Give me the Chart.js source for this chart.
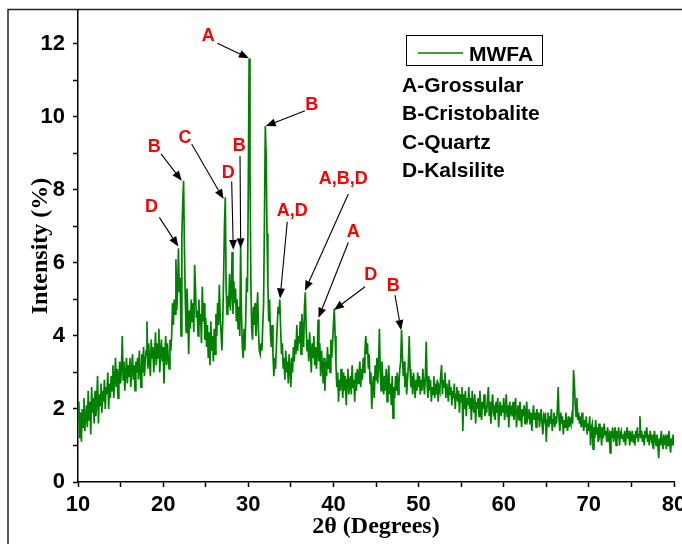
<!DOCTYPE html>
<html>
<head>
<meta charset="utf-8">
<title>MWFA XRD</title>
<script src="https://cdn.jsdelivr.net/npm/chart.js@4.4.0/dist/chart.umd.min.js"></script>
<style>
  html, body { margin: 0; padding: 0; background: #fff; }
  #wrap { width: 682px; height: 544px; }
</style>
</head>
<body>
<div id="wrap"><canvas id="xrd" width="682" height="544"></canvas></div>
<script>
  // 2theta grid: 10.0 .. 80.0 in 0.1 deg steps, one row per degree
  const thetaStart = 10;
  const thetaStep = 0.1;
  const intensity = [
    1.7,2.2,1.2,1.9,1.1,2.0,1.5,2.3,1.4,1.8,   // 10
    2.1,1.5,2.5,1.7,2.2,1.3,2.6,1.9,2.3,1.6,   // 11
    2.5,1.8,2.2,2.9,1.6,2.4,2.1,2.7,1.9,2.5,   // 12
    2.2,2.8,2.0,2.6,2.4,3.0,2.0,2.7,2.3,2.9,   // 13
    2.5,3.2,2.3,2.8,3.4,2.6,3.1,2.3,2.9,3.3,   // 14
    2.7,3.1,4.0,2.8,3.3,2.5,3.0,3.4,2.7,3.2,   // 15
    2.9,3.4,2.6,3.1,3.5,2.8,3.2,2.5,3.3,3.0,   // 16
    3.4,2.8,3.6,3.1,2.6,3.5,3.0,3.7,2.9,3.3,   // 17
    3.6,4.4,3.1,3.8,3.3,2.9,3.9,3.4,3.7,3.0,   // 18
    3.5,4.1,3.2,3.8,3.4,4.2,3.0,3.6,3.9,3.3,   // 19
    3.7,2.7,3.5,4.0,3.2,3.8,3.4,3.1,3.9,3.6,   // 20
    4.0,4.9,4.3,5.0,4.6,6.1,4.7,5.3,6.4,5.2,   // 21
    5.6,4.0,6.8,7.6,8.25,6.4,5.0,4.1,5.3,4.6,  // 22
    3.5,4.7,4.2,5.0,4.4,4.9,4.1,5.95,5.3,4.5,  // 23
    4.7,4.0,5.0,4.3,4.6,3.8,5.35,4.4,4.9,3.9,  // 24
    4.5,3.7,4.3,3.4,4.1,3.2,4.4,3.6,4.0,3.3,   // 25
    4.2,3.5,4.6,4.0,4.9,4.3,5.4,4.5,4.1,3.6,   // 26
    4.4,5.6,7.0,7.8,5.3,4.6,5.1,4.8,5.7,4.7,   // 27
    5.2,6.3,4.6,5.5,4.9,5.3,4.4,5.0,4.2,4.8,   // 28
    4.0,6.45,4.6,3.7,3.4,4.2,3.6,4.5,5.6,5.2,  // 29
    8.0,11.6,8.6,5.5,4.2,3.9,4.8,4.3,4.9,4.0,  // 30
    4.6,5.2,4.1,3.6,3.5,3.8,3.6,4.3,4.9,7.2,   // 31
    9.75,8.9,6.8,5.4,4.4,5.0,4.1,3.7,4.3,3.5,  // 32
    2.9,3.4,3.1,3.7,4.3,4.8,4.6,5.0,4.2,3.5,   // 33
    3.8,3.1,3.4,2.8,3.6,3.0,3.3,2.7,3.5,3.1,   // 34
    2.6,3.4,3.0,3.7,3.3,3.9,3.5,4.3,3.6,4.0,   // 35
    3.8,4.4,3.5,4.6,4.1,3.7,4.8,5.2,4.2,3.6,   // 36
    3.9,3.3,4.1,3.6,3.0,3.8,3.4,4.0,3.2,3.7,   // 37
    3.1,3.5,4.45,3.3,3.8,2.9,3.6,3.2,2.7,3.4,  // 38
    2.5,3.3,2.9,3.7,3.1,3.5,3.0,3.9,3.4,3.8,   // 39
    4.3,4.75,4.0,3.2,2.6,3.0,2.2,2.8,2.5,3.1,  // 40
    2.7,2.3,3.0,2.5,2.9,2.1,2.8,3.1,2.4,2.7,   // 41
    2.9,2.4,3.2,2.6,2.8,2.2,3.0,2.5,3.1,2.7,   // 42
    2.9,3.3,2.6,3.1,2.8,3.4,3.0,3.6,4.0,3.5,   // 43
    3.8,3.1,3.5,2.7,3.0,2.0,2.6,2.9,2.3,3.2,   // 44
    2.8,3.4,2.7,3.2,4.2,3.0,2.5,3.3,2.8,2.4,   // 45
    2.9,2.5,3.1,2.2,2.8,3.2,2.4,2.7,2.1,2.9,   // 46
    1.75,2.6,2.3,2.9,2.5,3.0,2.4,2.7,3.1,3.3,  // 47
    4.16,3.5,2.9,3.3,2.6,3.0,2.4,2.8,3.2,4.0,  // 48
    3.1,2.6,2.9,2.4,3.0,2.7,2.3,2.8,2.5,3.0,   // 49
    2.6,2.9,2.4,2.8,2.5,3.1,2.7,2.4,2.9,3.84,  // 50
    2.7,2.3,2.9,2.5,2.8,2.2,2.6,2.4,2.9,2.3,   // 51
    2.7,2.4,2.8,2.2,2.6,2.5,2.9,3.2,2.4,2.8,   // 52
    2.6,3.0,2.3,2.7,2.5,2.2,2.8,2.4,2.6,2.1,   // 53
    2.5,2.3,2.7,2.0,2.4,2.6,2.2,2.5,1.9,2.4,   // 54
    2.2,2.6,1.4,2.4,2.0,2.5,1.8,2.3,2.1,2.6,   // 55
    2.0,2.3,1.7,2.5,2.1,1.9,2.4,1.6,2.2,2.0,   // 56
    2.3,1.8,2.5,2.1,1.7,2.2,2.0,2.4,1.8,2.1,   // 57
    1.9,2.3,2.6,1.8,2.2,1.6,2.1,2.4,1.9,2.0,   // 58
    1.7,2.2,1.9,2.3,1.5,2.0,2.2,1.8,2.1,1.9,   // 59
    2.3,1.7,2.0,2.4,1.8,2.1,1.5,2.2,1.9,2.0,   // 60
    1.8,2.2,1.7,2.0,2.3,1.5,1.9,2.1,1.7,2.2,   // 61
    1.9,1.5,2.0,1.8,2.1,1.6,1.9,2.2,1.7,1.8,   // 62
    2.0,1.6,1.9,1.4,1.8,2.1,1.7,1.9,1.5,2.0,   // 63
    1.7,1.9,1.5,1.8,2.0,1.6,1.3,1.8,1.7,1.9,   // 64
    1.1,1.7,1.9,1.5,1.8,1.6,2.0,1.4,1.7,1.9,   // 65
    1.5,1.8,1.6,2.0,2.6,1.7,1.4,1.9,1.6,1.8,   // 66
    1.3,1.7,1.5,1.9,1.6,1.4,1.8,1.5,1.7,1.6,   // 67
    1.8,1.6,3.07,2.7,2.1,1.8,2.3,1.7,1.9,1.6,  // 68
    1.8,1.5,1.9,1.6,1.4,1.7,1.5,1.8,1.3,1.6,   // 69
    1.4,1.8,1.0,1.5,1.6,0.9,1.5,1.2,1.7,1.3,   // 70
    1.5,1.1,1.6,1.3,1.4,1.0,1.5,1.2,1.6,1.3,   // 71
    1.4,1.1,1.5,1.2,1.3,0.8,1.4,1.2,1.5,1.1,   // 72
    1.3,1.5,1.0,1.4,1.2,1.5,1.0,1.3,1.4,1.2,   // 73
    1.3,1.1,1.4,1.0,1.3,1.5,1.2,1.4,1.0,1.3,   // 74
    1.2,1.4,1.1,1.3,1.0,1.4,1.2,1.5,1.1,1.3,   // 75
    1.8,1.2,1.4,1.1,1.3,1.0,1.4,1.2,1.5,1.1,   // 76
    1.3,1.0,1.4,1.2,1.1,1.3,0.9,1.4,1.2,1.0,   // 77
    1.3,1.1,0.65,1.2,1.0,1.4,1.1,0.9,1.3,1.1,  // 78
    1.2,0.9,1.3,1.0,1.4,1.1,0.8,1.2,1.0,1.3,   // 79
    1.0                                        // 80
  ];

  const xTicks = [10, 15, 20, 25, 30, 35, 40, 45, 50, 55, 60, 65, 70, 75, 80];
  const yTicks = [0, 1, 2, 3, 4, 5, 6, 7, 8, 9, 10, 11, 12];

  // peak annotations: label, label position, arrow tail, arrow tip (data units)
  const peakLabels = ['A', 'B', 'C', 'D', 'B', 'A,D', 'A,B,D', 'A', 'D', 'B', 'B', 'D'];
  const labelAt = [[25.30, 12.22], [37.45, 10.33], [22.57, 9.42], [27.65, 8.46], [28.95, 9.21], [35.17, 7.43],
                   [41.16, 8.29], [42.34, 6.86], [44.38, 5.67], [47.03, 5.37], [18.97, 9.17], [18.63, 7.53]];
  const arrowFrom = [[26.36, 12.02], [36.66, 10.17], [23.35, 9.26], [28.05, 8.23], [29.03, 8.93], [34.58, 7.13],
                     [41.75, 7.89], [41.75, 6.56], [43.71, 5.35], [47.23, 5.12], [19.75, 8.99], [19.55, 7.25]];
  const arrowTo = [[30.08, 11.61], [32.05, 9.75], [27.10, 7.75], [28.24, 6.36], [29.11, 6.40], [33.73, 5.03],
                   [36.66, 5.24], [38.25, 4.50], [40.07, 4.71], [47.95, 4.16], [22.19, 8.25], [21.78, 6.45]];

  const seriesName = 'MWFA';
  const phaseNames = ['A-Grossular', 'B-Cristobalite', 'C-Quartz', 'D-Kalsilite'];

  const green = '#008000';
  const sans = "'Liberation Sans', Arial, Helvetica, sans-serif";
  const serif = "'Liberation Serif', 'Times New Roman', Times, serif";

  const points = intensity.map((v, i) => ({ x: +(thetaStart + i * thetaStep).toFixed(1), y: v }));

  function drawArrow(ctx, x1, y1, x2, y2) {
    const a = Math.atan2(y2 - y1, x2 - x1);
    const head = 10, half = 4;
    const bx = x2 - head * Math.cos(a), by = y2 - head * Math.sin(a);
    ctx.beginPath();
    ctx.moveTo(x1, y1);
    ctx.lineTo(bx, by);
    ctx.stroke();
    ctx.beginPath();
    ctx.moveTo(x2, y2);
    ctx.lineTo(bx + half * Math.sin(a), by - half * Math.cos(a));
    ctx.lineTo(bx - half * Math.sin(a), by + half * Math.cos(a));
    ctx.closePath();
    ctx.fill();
  }

  const framePlugin = {
    id: 'frame',
    beforeDraw(chart) {
      const ctx = chart.ctx;
      ctx.save();
      ctx.fillStyle = '#fff';
      ctx.fillRect(0, 0, chart.width, chart.height);
      ctx.strokeStyle = '#222';
      ctx.lineWidth = 1.5;
      ctx.beginPath();
      ctx.moveTo(8, chart.height);
      ctx.lineTo(8, 9.5);
      ctx.lineTo(chart.width, 9.5);
      ctx.stroke();
      ctx.restore();
    }
  };

  const notesPlugin = {
    id: 'notes',
    afterDatasetsDraw(chart) {
      const ctx = chart.ctx;
      const xs = chart.scales.x, ys = chart.scales.y;
      ctx.save();

      // peak arrows and labels
      ctx.strokeStyle = '#000';
      ctx.fillStyle = '#000';
      ctx.lineWidth = 1.1;
      arrowFrom.forEach((f, i) => {
        drawArrow(ctx, xs.getPixelForValue(f[0]), ys.getPixelForValue(f[1]),
                  xs.getPixelForValue(arrowTo[i][0]), ys.getPixelForValue(arrowTo[i][1]));
      });
      ctx.fillStyle = '#ff0000';
      ctx.font = 'bold 18px ' + sans;
      ctx.textAlign = 'center';
      ctx.textBaseline = 'middle';
      peakLabels.forEach((t, i) => {
        ctx.fillText(t, xs.getPixelForValue(labelAt[i][0]), ys.getPixelForValue(labelAt[i][1]));
      });

      // legend box
      ctx.strokeStyle = '#000';
      ctx.lineWidth = 1;
      ctx.strokeRect(406.5, 35.5, 136, 30);
      ctx.strokeStyle = green;
      ctx.lineWidth = 1.3;
      ctx.beginPath();
      ctx.moveTo(418, 53);
      ctx.lineTo(463, 53);
      ctx.stroke();
      ctx.fillStyle = '#000';
      ctx.textAlign = 'left';
      ctx.textBaseline = 'alphabetic';
      ctx.font = 'bold 21px ' + sans;
      ctx.fillText(seriesName, 469, 61);
      phaseNames.forEach((t, i) => ctx.fillText(t, 402, 92 + i * 28.33));
      ctx.restore();
    }
  };

  new Chart(document.getElementById('xrd'), {
    type: 'line',
    data: {
      datasets: [{
        label: seriesName,
        data: points,
        borderColor: green,
        borderWidth: 1.7,
        pointRadius: 0,
        tension: 0,
        fill: false
      }]
    },
    options: {
      responsive: false,
      animation: false,
      layout: { padding: { top: 10, right: 8, left: 0, bottom: 0 } },
      plugins: { legend: { display: false }, tooltip: { enabled: false } },
      scales: {
        x: {
          type: 'linear',
          min: 10,
          max: 80,
          afterFit: s => { s.height = 62; s.paddingLeft = 0; s.paddingRight = 0; },
          afterBuildTicks: s => { s.ticks = xTicks.map(v => ({ value: v })); },
          border: { color: '#000', width: 1.5 },
          grid: { drawOnChartArea: false, tickLength: 5, tickColor: '#000', tickWidth: 1.5 },
          ticks: {
            color: '#000',
            padding: 5,
            maxRotation: 0,
            autoSkip: false,
            font: { family: sans, size: 22, weight: 'bold' },
            callback: v => (v % 10 === 0 ? String(v) : '')
          },
          title: {
            display: true,
            text: '2\u03B8 (Degrees)',
            color: '#000',
            font: { family: serif, size: 24, weight: 'bold', lineHeight: 1.2 },
            padding: { top: 0, bottom: 3 }
          }
        },
        y: {
          min: 0,
          max: 12.93,
          afterFit: s => { s.width = 78; s.paddingTop = 0; s.paddingBottom = 0; },
          afterBuildTicks: s => { s.ticks = yTicks.map(v => ({ value: v })); },
          border: { color: '#000', width: 1.5 },
          grid: { drawOnChartArea: false, tickLength: 5, tickColor: '#000', tickWidth: 1.5 },
          ticks: {
            color: '#000',
            padding: 8,
            autoSkip: false,
            font: { family: sans, size: 22, weight: 'bold' },
            callback: v => (v % 2 === 0 ? String(v) : '')
          },
          title: {
            display: true,
            text: 'Intensity (%)',
            color: '#000',
            font: { family: serif, size: 24, weight: 'bold', lineHeight: 1.2 },
            padding: { top: 26, bottom: 0 }
          }
        }
      }
    },
    plugins: [framePlugin, notesPlugin]
  });
</script>
</body>
</html>
